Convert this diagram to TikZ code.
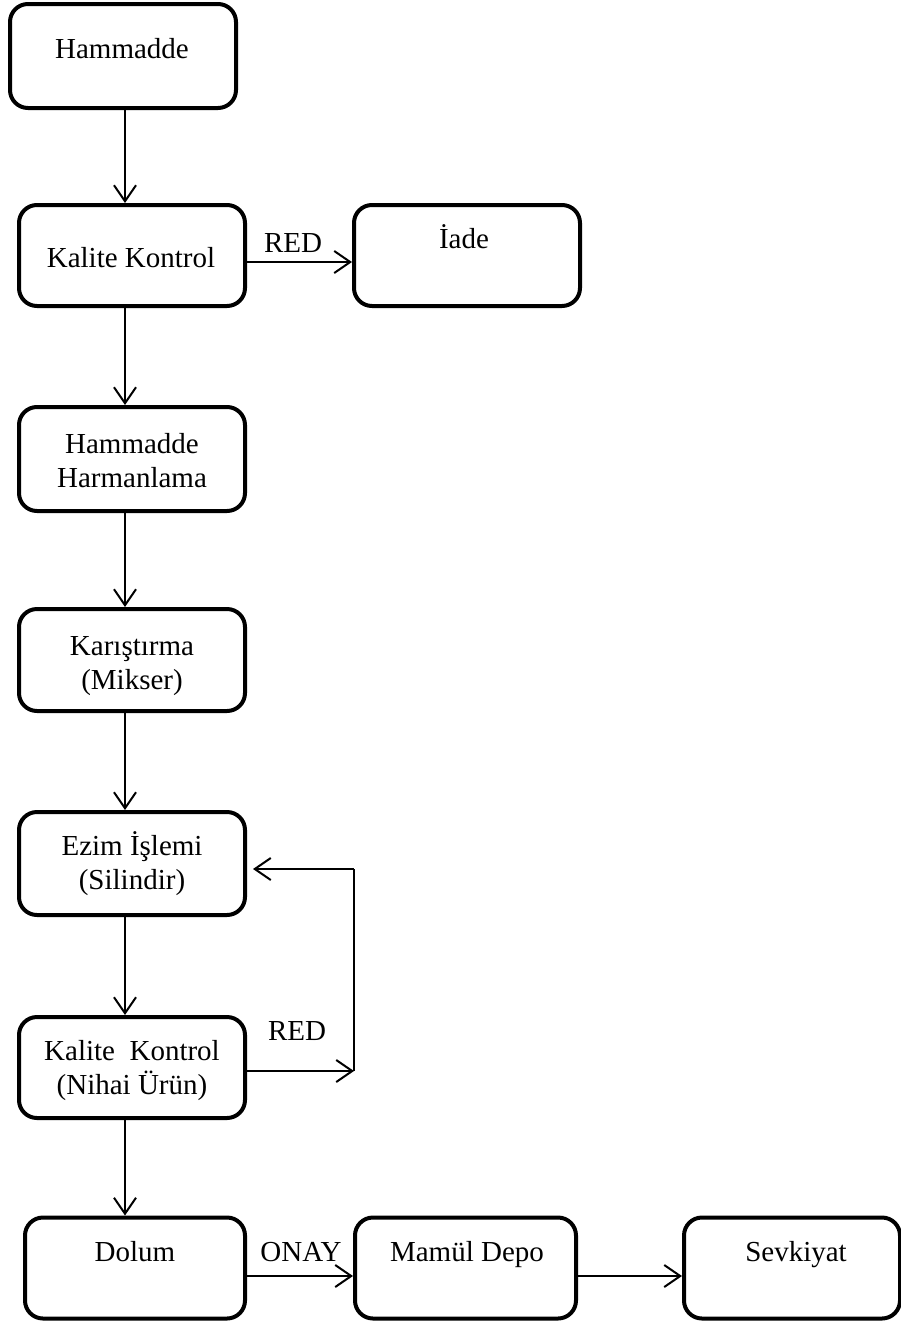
\documentclass[tikz,border=0pt]{standalone}
\usepackage{fontspec}
\setmainfont{Liberation Serif}
\usetikzlibrary{arrows.meta}
\newcommand{\twol}[2]{\begin{tabular}[t]{@{}c@{}}#1\\#2\end{tabular}}
\begin{document}
\begin{tikzpicture}[x=1pt,y=1pt,
  procbox/.style={draw, line width=4pt, rounded corners=18pt, minimum width=226pt, inner sep=0pt},
  txt/.style={anchor=base, inner sep=0pt, font=\fontsize{29}{34}\selectfont},
  arr/.style={line width=2pt, -{Straight Barb[length=16pt,width=22pt,line width=2pt]}},
  plain/.style={line width=2pt}
]
\useasboundingbox (0,0) rectangle (901,-1326);
% boxes
\node[procbox, minimum height=104pt] (b1) at (123,-56) {};
\node[procbox, minimum height=101pt] (b2) at (132,-255.5) {};
\node[procbox, minimum height=101pt] (iade) at (467,-255.5) {};
\node[procbox, minimum height=104pt] (b3) at (132,-459) {};
\node[procbox, minimum height=102pt] (b4) at (132,-660) {};
\node[procbox, minimum height=103pt] (b5) at (132,-863.5) {};
\node[procbox, minimum height=101pt] (b6) at (132,-1067.5) {};
\node[procbox, minimum height=101pt, minimum width=220pt] (dolum) at (135,-1268) {};
\node[procbox, minimum height=101pt, minimum width=221pt] (mamul) at (465.5,-1268) {};
\node[procbox, minimum height=101pt, minimum width=216pt] (sevk) at (792,-1268) {};
% texts
\node[txt] (t1) at (122,-58) {Hammadde};
\node[txt] (t2) at (131,-267) {Kalite Kontrol};
\node[txt] (t3) at (464,-248) {İade};
\node[txt] (t4) at (132,-453) {\twol{Hammadde}{Harmanlama}};
\node[txt] (t5) at (132,-655) {\twol{Karıştırma}{(Mikser)}};
\node[txt] (t6) at (132,-855) {\twol{Ezim İşlemi}{(Silindir)}};
\node[txt] (t7) at (132,-1060) {\twol{Kalite\ \ Kontrol}{(Nihai Ürün)}};
\node[txt] (t8) at (135,-1261) {Dolum};
\node[txt] (t9) at (467,-1261) {Mamül Depo};
\node[txt] (t10) at (796,-1261) {Sevkiyat};
\node[txt] (red1) at (293,-252) {RED};
\node[txt] (red2) at (297,-1040) {RED};
\node[txt] (onay) at (301,-1261) {ONAY};
% helper coordinates
\coordinate (ax) at (125,0);
\coordinate (r1) at (0,-262);
\coordinate (lp) at (354,-1071);
\coordinate (lt) at (354,-869);
\coordinate (hb) at (0,-1276);
% vertical flow
\draw[arr] (b1.south -| ax) -- (b2.north -| ax);
\draw[arr] (b2.south -| ax) -- (b3.north -| ax);
\draw[arr] (b3.south -| ax) -- (b4.north -| ax);
\draw[arr] (b4.south -| ax) -- (b5.north -| ax);
\draw[arr] (b5.south -| ax) -- (b6.north -| ax);
\draw[arr] (b6.south -| ax) -- (dolum.north -| ax);
% side arrows
\draw[arr] (b2.east |- r1) -- (iade.west |- r1);
\draw[arr] (b6.east |- lp) -- (lp);
\draw[plain] (lp) -- (lt);
\draw[arr, shorten >=6pt] (lt) -- (b5.east |- lt);
\draw[arr] (dolum.east |- hb) -- (mamul.west |- hb);
\draw[arr] (mamul.east |- hb) -- (sevk.west |- hb);
\end{tikzpicture}
\end{document}
